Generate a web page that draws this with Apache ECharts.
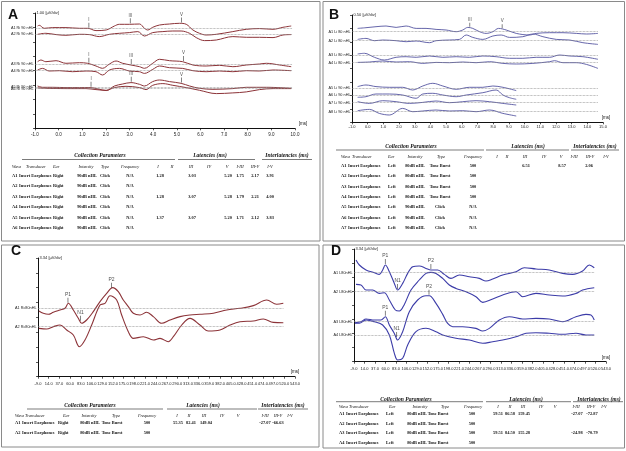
<!DOCTYPE html>
<html><head><meta charset="utf-8">
<script src="https://cdn.jsdelivr.net/npm/echarts/dist/echarts.min.js"></script>
<style>html,body{margin:0;padding:0;background:#fff}#c{width:626px;height:451px}</style>
</head><body><div id="c"></div>
<script>
// ---------- DATA: waveforms [time, amplitude] (amplitude in reference px units) ----------
const waveA1=[[-0.89,2.3],[-0.82,3],[-0.61,0],[-0.25,0.7],[0.31,0.7],[0.88,0],[1.23,0],[1.58,-2.3],[2.01,-1.7],[2.36,2.3],[2.57,4],[2.99,4],[3.42,4.3],[3.63,0],[3.77,-1.7],[3.98,1],[4.27,3.3],[4.69,4.3],[5.11,5],[5.40,4],[5.68,-1.7],[5.96,-5],[6.24,-6.7],[6.67,-6],[7.37,-3.3],[7.94,-1],[8.50,-0.3],[9.07,-1],[9.49,1],[9.84,2.3]];
const waveA2=[[-0.89,0],[-0.54,1],[-0.11,-0.3],[0.31,-1],[0.88,0],[1.30,-0.3],[1.72,-2.3],[2.15,0],[2.57,1],[2.99,1.7],[3.35,2.7],[3.63,-1.7],[3.98,1.7],[4.41,2.7],[4.83,3.3],[5.18,3.3],[5.54,1],[5.82,-3.3],[6.17,-6.3],[6.67,-5.7],[7.37,-2.3],[7.94,-3],[8.50,-3],[9.07,-3.3],[9.49,-0.7],[9.84,-0.3]];
const waveA3=[[-0.89,2.3],[-0.75,4],[-0.54,2.3],[-0.11,3.3],[0.31,0.7],[0.88,1.3],[1.23,0.7],[1.58,-2],[1.86,-4.3],[2.15,0],[2.43,3],[2.71,0.7],[3.06,-1],[3.42,-2.7],[3.63,-4.3],[3.98,0.7],[4.27,4.7],[4.69,3.3],[5.25,2.3],[5.68,-1],[6.24,-2],[6.81,-1.3],[7.37,-2.7],[7.94,-1],[8.50,0],[8.79,0.7],[9.35,-1],[9.84,-2.7]];
const waveA4=[[-0.89,0.7],[-0.68,2.3],[-0.40,-0.3],[0.03,0],[0.59,-1],[1.16,-0.3],[1.58,-1],[1.86,-4.3],[2.15,0.7],[2.57,2.3],[2.99,-0.3],[3.42,-1],[3.63,-2.7],[3.98,1.3],[4.27,4.7],[4.69,3],[5.25,2.3],[5.68,0],[6.24,-1],[6.81,-0.3],[7.37,-1],[7.94,0],[8.50,-0.3],[9.07,0.7],[9.84,0]];
const waveA5=[[-0.89,1.3],[-0.68,0],[-0.25,0],[0.31,-0.3],[0.88,-0.3],[1.33,-0.3],[1.72,-2],[2.01,-3.3],[2.36,1.3],[2.71,3.3],[3.06,4.7],[3.42,3],[3.63,1.3],[3.98,5.7],[4.27,7.3],[4.69,5.7],[5.18,4],[5.54,1.3],[5.96,-1],[6.53,-2],[7.37,-1.3],[7.94,0],[8.79,0],[9.84,-1]];
const waveA6=[[-0.89,0.7],[-0.54,0.3],[0.31,0],[1.16,0],[1.58,-1],[2.01,-1.7],[2.36,1],[2.85,2.3],[3.42,1],[3.70,-1],[3.98,3.3],[4.41,5],[4.83,3.3],[5.40,1],[5.96,-1.7],[6.67,-5],[7.37,-4.3],[7.94,-3.3],[8.50,-1],[9.07,0],[9.84,0]];

const waveB1=[[-0.64,3.3],[-0.11,4],[0.53,5],[1.17,5.7],[1.81,4.3],[2.45,5.7],[3.09,3.3],[3.72,3.3],[4.36,2.3],[5.00,1.7],[5.64,0],[6.06,1.7],[6.38,4.3],[6.70,3.3],[7.13,0],[7.55,-1.7],[7.98,0],[8.34,3.3],[8.83,1.7],[9.47,-1.7],[10.32,-3.3],[10.74,-1.7],[11.60,-1],[12.45,-1],[13.30,-1.7],[13.94,-2.3],[14.68,-1.7]];
const waveB2=[[-0.64,1.3],[-0.11,2.3],[0.43,0],[0.96,0.7],[1.81,0],[2.45,-1],[3.09,-0.3],[3.94,-2],[4.36,0],[5.21,0.7],[5.85,1.3],[6.28,5.7],[6.70,3.3],[7.34,1.3],[7.98,4.7],[8.51,5.7],[9.04,3.3],[9.89,4],[10.53,6.7],[11.17,4],[12.02,1.3],[12.87,0.7],[13.72,-2],[14.68,-3.7]];
const waveB3=[[-0.64,1],[-0.21,1.7],[0.43,-2.3],[1.06,-5],[1.81,-2.3],[2.45,-1.7],[3.09,-2.3],[3.94,-1],[4.79,-2.3],[5.64,-1.7],[6.49,-2.3],[7.34,-1],[8.19,-1.7],[9.04,-3.3],[9.89,-3.3],[10.74,-2.3],[11.60,-2.3],[12.23,0],[12.87,-1],[13.72,-1.7],[14.68,-4.3]];
const waveB4=[[-0.64,0.3],[0.11,0.7],[0.96,1.7],[1.81,0.7],[2.66,1],[3.51,-0.7],[4.36,0.3],[5.21,0],[6.06,0.7],[6.91,0],[7.77,1],[8.62,-0.7],[9.47,-1.3],[10.53,-0.7],[11.60,1],[11.91,2],[12.45,0],[13.30,0],[13.94,-1.7],[14.68,-5.7]];
const waveB5=[[-0.64,1.7],[-0.11,3.3],[0.53,1.7],[1.38,1],[2.23,1],[2.87,-1.7],[3.51,2.3],[4.15,5],[4.79,2.3],[5.64,-1],[6.49,1],[7.34,1],[7.98,2.3],[8.62,1],[9.47,-2.3]];
const waveB6=[[-0.64,-2.3],[-0.11,-1.7],[0.53,1],[1.38,1],[2.23,0],[3.09,-3.3],[3.51,1],[4.15,1.7],[4.79,0],[5.64,-1.7],[6.28,0],[7.34,2.3],[8.19,5],[8.62,0],[9.04,-2.7],[9.47,-4.3]];
const waveB7=[[-0.64,1],[0.11,-0.7],[0.96,2],[1.81,1],[2.66,-0.7],[3.51,0.3],[4.36,1.7],[5.21,0],[6.06,1],[6.91,2],[7.77,1],[8.62,-0.7],[9.47,-2.3]];
const waveB8=[[-0.64,1],[0.11,2.3],[0.74,-1.7],[1.38,-3.3],[2.23,3.3],[2.87,0],[3.51,0.7],[4.36,1.7],[5.21,0.7],[6.06,1],[6.91,0],[7.77,1.7],[8.62,-1.7],[9.47,-4.3]];

const waveC1=[[-7,-2.7],[2.4,-5],[13.2,-6],[23.9,-4],[38.3,-1.7],[49,0],[56.1,5],[66.9,-1.7],[77.6,-10],[84.8,-15],[95.5,-11.7],[109.8,-3.3],[124.2,6.7],[138.5,15],[151.4,20.7],[163.5,16.7],[174.2,8.3],[185,1.7],[195.7,-5],[210.1,-6.7],[224.5,-4],[238.7,-8.3],[256.7,-15],[274.5,-11.7],[296,-8.3],[317.5,-6.7],[339,-6],[367.6,-5],[396.3,-1.7],[424.9,0],[453.5,2.7],[482.2,8.3],[503.6,4],[517.9,5]];
const waveC2=[[-7,-1.7],[9.6,-2.3],[23.9,0],[38.3,1.7],[52.6,-3.3],[66.9,-8.3],[79.8,-20],[91.9,-13.3],[106.3,1.7],[124.2,21.7],[134.9,23.3],[145.7,31],[160,26.7],[170.7,11.7],[185,-5],[195.7,-11.7],[217.3,-10],[238.7,-13.3],[253.1,-11.7],[270.9,-15],[281.7,-10],[299.7,1.7],[317.5,8.3],[339,1.7],[356.8,-4.3],[381.9,-3.3],[403.4,1.7],[424.9,5],[453.5,5.7],[475,7.7],[496.4,4.3],[517.9,4]];

const waveD1=[[-4.6,12.7],[2.7,7.7],[17.3,2.7],[35.6,0],[46.5,-1.7],[53.8,2.7],[59.6,7.7],[68.4,1],[79.4,-10.7],[86.6,-17.3],[97.6,-10.7],[108.6,-0.7],[119.5,6],[134,6.7],[148.7,4.3],[159.6,2.7],[174.3,2.7],[188.9,-1.7],[203.4,-5.7],[221.7,-2.3],[243.6,-4],[265.5,-5.7],[280.1,-8.3],[294.8,-6.3],[316.7,-2.3],[345.9,1],[364.1,5],[389.6,3.7],[418.7,2.7],[448,-0.7],[469.9,-1.7],[491.8,1.7],[506.4,7.7],[517.3,5]];
const waveD2=[[-4.6,7.3],[6.3,6.7],[17.3,1.7],[31.9,1.7],[46.5,-1.7],[57.4,-1],[68.4,-8.3],[81.6,-18.3],[90.3,-19.3],[101.3,-12.7],[115.8,1.7],[134,11.7],[148.7,18.3],[159.6,19.3],[170.6,18.3],[185.3,13.3],[199.8,6.7],[214.4,3.3],[236.3,0],[258.2,-5],[272.9,-10.7],[294.8,-7.3],[316.7,-3.3],[345.9,0],[360.5,-5],[389.6,-1.7],[418.7,-3.3],[448,-4.3],[477.2,-1.7],[491.8,1.7],[517.3,4]];
const waveD3=[[-6.8,-1],[6.3,0],[17.3,2.7],[35.6,1.7],[50.1,1.7],[59.6,5],[68.4,-3.3],[79.4,-11.7],[86.6,-18.3],[97.6,-10],[112.2,10],[130.4,21.7],[148.7,26],[156,26],[170.6,18.3],[185.3,7.3],[196.2,-1.7],[207.1,-5],[229,-5],[258.2,-6.7],[272.9,-9.3],[287.4,-6.7],[309.4,1.7],[331.3,5],[360.5,2.7],[389.6,3.3],[418.7,2.7],[448,0],[477.2,5],[499.1,7.3],[510,6.7],[517.3,1.7]];
const waveD4=[[-6.8,11.7],[2.7,11.7],[17.3,15],[35.6,13.3],[53.8,10],[68.4,0],[79.4,-18.3],[86.6,-25],[97.6,-23.3],[108.6,-10],[126.8,3.3],[148.7,6.7],[170.6,3.3],[185.3,0],[214.4,-3.3],[243.6,-5],[272.9,-8.3],[294.8,-6.7],[316.7,-5],[345.9,-1.7],[367.8,1.7],[389.6,2.3],[418.7,1.7],[448,0.7],[477.2,1.7],[499.1,0],[517.3,0]];

// ---------- DATA: wave names ----------
const namesA=['A1 Ri 90 nHL','A2 Ri 90 nHL','A3 Ri 90 nHL','A4 Ri 90 nHL','A5 Ri 90 nHL','A6 Ri 90 nHL'];
const namesB=['A1 Li 80 nHL','A2 Li 80 nHL','A3 Li 80 nHL','A4 Li 80 nHL','A5 Li 90 nHL','A6 Li 90 nHL','A7 Li 90 nHL','A8 Li 90 nHL'];
const namesC=['A1 Rc80nHL','A2 Rc80nHL'];
const namesD=['A1 L80nHL','A2 L80nHL','A3 L80nHL','A4 L80nHL'];

// ---------- DATA: tables ----------
const colHeaders=['Wave','Transducer','Ear','Intensity','Type','Frequency','I','II','III','IV','V','I-III','III-V','I-V'];
const peakNamesABR=['I','II','III','IV','V'];
const peakNamesLLR=['P1','N1','P2','',''];
const tableA_rows=[
 ['A1','Right','90dB nHL','Click','N/A','1.28','','3.03','','5.20','1.75','2.17','3.91'],
 ['A2','Right','90dB nHL','Click','N/A','','','','','','','',''],
 ['A3','Right','90dB nHL','Click','N/A','1.28','','3.07','','5.28','1.79','2.21','4.00'],
 ['A4','Right','90dB nHL','Click','N/A','','','','','','','',''],
 ['A5','Right','90dB nHL','Click','N/A','1.37','','3.07','','5.20','1.71','2.12','3.83'],
 ['A6','Right','90dB nHL','Click','N/A','','','','','','','','']];
const tableB_rows=[
 ['A1','Left','80dB nHL','Tone Burst','500','','','6.51','','8.57','','2.06',''],
 ['A2','Left','80dB nHL','Tone Burst','500','','','','','','','',''],
 ['A3','Left','80dB nHL','Tone Burst','500','','','','','','','',''],
 ['A4','Left','80dB nHL','Tone Burst','500','','','','','','','',''],
 ['A5','Left','90dB nHL','Click','N/A','','','','','','','',''],
 ['A6','Left','90dB nHL','Click','N/A','','','','','','','',''],
 ['A7','Left','90dB nHL','Click','N/A','','','','','','','','']];
const tableC_rows=[
 ['A1','Right','80dB nHL','Tone Burst','500','55.35','82.41','149.04','','','-27.07','-66.63',''],
 ['A2','Right','80dB nHL','Tone Burst','500','','','','','','','','']];
const tableD_rows=[
 ['A1','Left','80dB nHL','Tone Burst','500','59.51','86.58','159.45','','','-27.07','-72.87',''],
 ['A2','Left','80dB nHL','Tone Burst','500','','','','','','','',''],
 ['A3','Left','80dB nHL','Tone Burst','500','59.51','84.50','155.28','','','-24.98','-70.79',''],
 ['A4','Left','80dB nHL','Tone Burst','500','','','','','','','','']];

// ---------- LAYOUT ----------
const RED='#8c3338', BLUE_B='#5555a0', BLUE_D='#3c3ca8';
const panels=[
 {letter:'A', lpos:[8,15], box:[1.5,1.5,318.5,239.5], grid:{left:35,top:13,width:260,height:115.3}, xmin:-1,xmax:10,xint:1,xfs:4.5,xm:4,
  color:RED, lw:1, unit:'1.00 [µV/div]', ms:[303,123.5], dotEnd:9.9, names:namesA,
  waves:[waveA1,waveA2,waveA3,waveA4,waveA5,waveA6], bases:[100,94,64.3,57.6,41,39.7], peaks:peakNamesABR, mfs:4.5, tick:5,
  rows:tableA_rows,
  tab:{title:[100,156], lineY:159.5, lines:[[22,175],[178,255],[262,312]], lat:210, inter:287, headY:166.5, rowY:175.5, dy:10.55,
   head:[12,26,53,86,105,130,158,172,191,209,227,240,255,270], xW:12, xT:19, xE:53, cols:[87,105,130,160,172,192,209,228,240,255,270]}},
 {letter:'B', lpos:[329,15], box:[323,1.5,301.5,239.5], grid:{left:352,top:15,width:251,height:107.3}, xmin:-1,xmax:15,xint:1,xfs:4,xm:2.5,
  color:BLUE_B, lw:0.9, unit:'0.50 [µV/div]', ms:[606,118], dotEnd:14.7, names:namesB,
  waves:[waveB1,waveB2,waveB3,waveB4,waveB5,waveB6,waveB7,waveB8], bases:[90.6,81.6,67.3,59.6,34,27.3,19.6,10.6], peaks:peakNamesABR, mfs:4.5, tick:4,
  rows:tableB_rows,
  tab:{title:[411,147], lineY:150, lines:[[336,484],[486,569],[571,619]], lat:528, inter:595, headY:156.5, rowY:166, dy:10.33,
   head:[341,352,388,415,441,473,497,507,525,544,561,574,590,606], xW:341, xT:348, xE:388, cols:[415,440,473,497,507,526,544,562,574,589,606]}},
 {letter:'C', lpos:[11,251], box:[1.5,245,317.5,202], grid:{left:38,top:258,width:257,height:118.7}, xmin:-9,xmax:543,xint:23,xfs:4,xm:5,
  color:RED, lw:1.1, unit:'3.34 [µV/div]', ms:[295,371.5], dotEnd:518, names:namesC,
  waves:[waveC1,waveC2], bases:[68.4,50], peaks:peakNamesLLR, mfs:5, tick:5,
  rows:tableC_rows,
  tab:{title:[90,406], lineY:409, lines:[[27,163],[167,257],[258,308]], lat:203, inter:283, headY:416, rowY:423.3, dy:9.4,
   head:[15,25,63,89,116,147,177,189,204,222,238,265,278,290], xW:15, xT:22, xE:58, cols:[90,112,147,178,191,206,222,238,265,278,290]}},
 {letter:'D', lpos:[331,251], box:[323,245,301.5,203], grid:{left:354,top:249,width:252,height:112.7}, xmin:-9,xmax:543,xint:23,xfs:4,xm:5.5,
  color:BLUE_D, lw:1.1, unit:'3.34 [µV/div]', ms:[606,358], dotEnd:517, names:namesD,
  waves:[waveD1,waveD2,waveD3,waveD4], bases:[89,70,40,26.7], peaks:peakNamesLLR, mfs:5, tick:5,
  rows:tableD_rows,
  tab:{title:[406,399.3], lineY:401.7, lines:[[336,483],[486,571],[573,623]], lat:526, inter:599, headY:407, rowY:414, dy:9.5,
   head:[339,349,389,420,445,473,498,510,523,541,555,576,591,604], xW:339, xT:346, xE:386, cols:[417,438,472,498,510,524,541,555,577,592,604]}}
];

function interp(w,t){for(let i=0;i<w.length-1;i++){if(t>=w[i][0]&&t<=w[i+1][0]){const f=(t-w[i][0])/(w[i+1][0]-w[i][0]);return w[i][1]+f*(w[i+1][1]-w[i][1]);}}return 0;}
function T(text,x,y,font,align){return {type:'text',silent:true,z:10,style:{text:text,x:x,y:y,font:font,fill:'#111',textAlign:align||'center',align:align||'center',textVerticalAlign:'middle',verticalAlign:'middle'}};}
function L(x1,y1,x2,y2,c,w){return {type:'line',silent:true,z:10,shape:{x1:x1,y1:y1,x2:x2,y2:y2},style:{stroke:c||'#111',lineWidth:w||0.6}};}

const SERIF='"Liberation Serif", "Times New Roman", serif';
const SANS='"Liberation Sans", Arial, sans-serif';
const grids=[],xAxes=[],yAxes=[],series=[],gfx=[];
panels.forEach((p,i)=>{
  grids.push(Object.assign({containLabel:false},p.grid));
  xAxes.push({type:'value',gridIndex:i,min:p.xmin,max:p.xmax,interval:p.xint,
    axisLine:{onZero:false,lineStyle:{color:'#111',width:1}},axisTick:{length:2,lineStyle:{color:'#111',width:0.7}},
    axisLabel:{fontSize:p.xfs,color:'#222',margin:p.xm,fontFamily:SANS,formatter:v=>v.toFixed(1)},splitLine:{show:false}});
  yAxes.push({type:'value',gridIndex:i,min:0,max:p.grid.height,interval:p.grid.height/8,
    axisLine:{show:true,onZero:false,lineStyle:{color:'#111',width:1}},axisTick:{show:true,length:2,lineStyle:{color:'#111',width:0.7}},
    axisLabel:{show:false},splitLine:{show:false},
    name:p.unit,nameLocation:'end',nameGap:0,nameTextStyle:{fontSize:4,color:'#222',fontFamily:SANS,align:'left',verticalAlign:'middle',padding:[0,0,0,1.5]}});
  p.waves.forEach((w,k)=>{
    const base=p.bases[k];
    series.push({type:'line',xAxisIndex:i,yAxisIndex:i,data:w.map(q=>[q[0],base+q[1]]),symbol:'none',smooth:0.35,
      lineStyle:{color:p.color,width:p.lw},animation:false,silent:true,z:3,
      markLine:{silent:true,symbol:['none','none'],animation:false,
        lineStyle:{type:'dotted',color:'#888',width:0.7},
        label:{show:true,position:'start',formatter:p.names[k],fontSize:3.8,color:'#222',fontFamily:SANS,distance:1.5},
        data:[[{coord:[p.xmin,base]},{coord:[p.dotEnd,base]}]]}});
  });
  const mk=[];
  p.rows.forEach((r,ri)=>{
    if(!p.waves[ri]) return;
    for(let k=0;k<5;k++){const v=r[5+k]; if(v==='') continue; const t=parseFloat(v);
      mk.push({name:p.peaks[k],value:[t,p.bases[ri]+interp(p.waves[ri],t)]});}
  });
  series.push({type:'scatter',xAxisIndex:i,yAxisIndex:i,symbol:'rect',symbolSize:[0.7,p.tick],symbolOffset:[0,-(p.tick/2+1)],
    itemStyle:{color:'#222'},label:{show:true,position:'top',distance:0.5,formatter:'{b}',fontSize:p.mfs,color:'#222',fontFamily:SANS},
    data:mk,animation:false,silent:true,z:5});
  gfx.push({type:'rect',silent:true,shape:{x:p.box[0],y:p.box[1],width:p.box[2],height:p.box[3]},style:{fill:'none',stroke:'#8a8a8a',lineWidth:1}});
  gfx.push(T(p.letter,p.lpos[0],p.lpos[1],'bold 14px '+SANS,'left'));
  gfx.push(T('[ms]',p.ms[0],p.ms[1],'4.5px '+SANS,'center'));
  const tb=p.tab;
  gfx.push(T('Collection Parameters',tb.title[0],tb.title[1],'italic bold 5.6px '+SERIF));
  gfx.push(T('Latencies (ms)',tb.lat,tb.title[1],'italic bold 5.6px '+SERIF));
  gfx.push(T('Interlatencies (ms)',tb.inter,tb.title[1],'italic bold 5.6px '+SERIF));
  tb.lines.forEach(l=>gfx.push(L(l[0],tb.lineY,l[1],tb.lineY,'#222',0.6)));
  colHeaders.forEach((h,k)=>gfx.push(T(h,tb.head[k],tb.headY,'italic 4.3px '+SERIF,k<3?'left':'center')));
  p.rows.forEach((r,ri)=>{
    const y=tb.rowY+ri*tb.dy, f='bold 4.4px '+SERIF;
    gfx.push(T(r[0],tb.xW,y,f,'left'));
    gfx.push(T('Insert Earphones',tb.xT,y,f,'left'));
    gfx.push(T(r[1],tb.xE,y,f,'left'));
    for(let k=2;k<r.length;k++){ if(r[k]!=='') gfx.push(T(r[k],tb.cols[k-2],y,f,'center')); }
  });
});

const chart=echarts.init(document.getElementById('c'),null,{renderer:'canvas'});
chart.setOption({backgroundColor:'#fff',animation:false,grid:grids,xAxis:xAxes,yAxis:yAxes,series:series,graphic:{elements:gfx}});
</script></body></html>
